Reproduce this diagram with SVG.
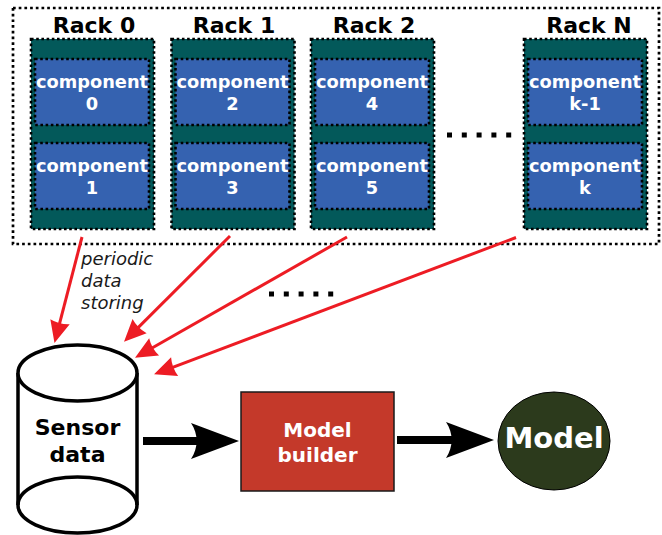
<svg xmlns="http://www.w3.org/2000/svg" width="662" height="535" viewBox="0 0 662 535">
  <style>
    .rack { fill: #03595a; stroke: #000; stroke-width: 2.6; stroke-dasharray: 2.6 2.6; }
    .comp { fill: #3562b0; stroke: #000; stroke-width: 2.6; stroke-dasharray: 2.6 2.6; }
    .rack-title { font-family: "DejaVu Sans", sans-serif; font-weight: bold; font-size: 22px; fill: #000; text-anchor: middle; }
    .comp-label { font-family: "DejaVu Sans", sans-serif; font-weight: bold; font-size: 17.8px; fill: #fff; text-anchor: middle; }
    .store { stroke: #ed1c24; stroke-width: 3; fill: none; marker-end: url(#redHead); }
    .flow { stroke: #000; stroke-width: 8; fill: none; }
    .head { fill: #000; }
    .ellipsis { stroke: #000; stroke-width: 5; stroke-dasharray: 5 9.8; fill: none; }
  </style>
  <defs>
    <marker id="redHead" markerUnits="userSpaceOnUse" viewBox="-14 -12 40 24" refX="0" refY="0" markerWidth="40" markerHeight="24" orient="auto" overflow="visible">
      <path d="M10,0 L-12,-10 Q-9,0 -12,10 Z" fill="#ed1c24"/>
    </marker>
  </defs>

  <!-- cluster of racks -->
  <rect id="cluster" x="13" y="8" width="646" height="236" fill="none" stroke="#000" stroke-width="2.7" stroke-dasharray="2.7 3"/>

  <g id="rack0">
    <text class="rack-title" x="94" y="33">Rack 0</text>
    <rect class="rack" x="31" y="39" width="123" height="190"/>
    <g id="comp0">
      <rect class="comp" x="35" y="59" width="114" height="66"/>
      <text class="comp-label" x="92" y="88">component</text>
      <text class="comp-label" x="92" y="110">0</text>
    </g>
    <g id="comp1">
      <rect class="comp" x="35" y="143" width="114" height="66"/>
      <text class="comp-label" x="92" y="172">component</text>
      <text class="comp-label" x="92" y="194">1</text>
    </g>
  </g>

  <g id="rack1">
    <text class="rack-title" x="234" y="33">Rack 1</text>
    <rect class="rack" x="171.5" y="39" width="123" height="190"/>
    <g id="comp2">
      <rect class="comp" x="175.5" y="59" width="114" height="66"/>
      <text class="comp-label" x="232.5" y="88">component</text>
      <text class="comp-label" x="232.5" y="110">2</text>
    </g>
    <g id="comp3">
      <rect class="comp" x="175.5" y="143" width="114" height="66"/>
      <text class="comp-label" x="232.5" y="172">component</text>
      <text class="comp-label" x="232.5" y="194">3</text>
    </g>
  </g>

  <g id="rack2">
    <text class="rack-title" x="374" y="33">Rack 2</text>
    <rect class="rack" x="311" y="39" width="123" height="190"/>
    <g id="comp4">
      <rect class="comp" x="315" y="59" width="114" height="66"/>
      <text class="comp-label" x="372" y="88">component</text>
      <text class="comp-label" x="372" y="110">4</text>
    </g>
    <g id="comp5">
      <rect class="comp" x="315" y="143" width="114" height="66"/>
      <text class="comp-label" x="372" y="172">component</text>
      <text class="comp-label" x="372" y="194">5</text>
    </g>
  </g>

  <!-- more racks in between -->
  <line class="ellipsis" x1="447" y1="135" x2="512" y2="135"/>

  <g id="rackN">
    <text class="rack-title" x="589" y="33">Rack N</text>
    <rect class="rack" x="524" y="39" width="123" height="190"/>
    <g id="compK1">
      <rect class="comp" x="528" y="59" width="114" height="66"/>
      <text class="comp-label" x="585" y="88">component</text>
      <text class="comp-label" x="585" y="110">k-1</text>
    </g>
    <g id="compK">
      <rect class="comp" x="528" y="143" width="114" height="66"/>
      <text class="comp-label" x="585" y="172">component</text>
      <text class="comp-label" x="585" y="194">k</text>
    </g>
  </g>

  <!-- sensor data store -->
  <g id="sensor-data">
    <path d="M18,373 L18,505 A59.5,28 0 0 0 137,505 L137,373" fill="#fff" stroke="#000" stroke-width="3.5"/>
    <ellipse cx="77.5" cy="373" rx="59.5" ry="28" fill="#fff" stroke="#000" stroke-width="3.5"/>
    <path d="M18,505 A59.5,28 0 0 1 137,505" fill="none" stroke="#000" stroke-width="3.5"/>
    <text x="77.5" y="435" font-family="DejaVu Sans, sans-serif" font-weight="bold" font-size="22" text-anchor="middle">Sensor</text>
    <text x="77.5" y="462" font-family="DejaVu Sans, sans-serif" font-weight="bold" font-size="22" text-anchor="middle">data</text>
  </g>

  <g id="model-builder">
    <rect x="241" y="392" width="153" height="99" fill="#c4392a" stroke="#1a1a1a" stroke-width="1.5"/>
    <text x="317.5" y="437" font-family="DejaVu Sans, sans-serif" font-weight="bold" font-size="20" fill="#fff" text-anchor="middle">Model</text>
    <text x="317.5" y="462" font-family="DejaVu Sans, sans-serif" font-weight="bold" font-size="20" fill="#fff" text-anchor="middle">builder</text>
  </g>

  <g id="model">
    <ellipse cx="554" cy="441" rx="56" ry="49" fill="#2c3a1c" stroke="#000" stroke-width="1"/>
    <text x="554" y="448" font-family="DejaVu Sans, sans-serif" font-weight="bold" font-size="29" fill="#fff" text-anchor="middle">Model</text>
  </g>

  <!-- connectors -->
  <g id="connectors">
    <line class="store" x1="82" y1="237" x2="57" y2="333.3"/>
    <line class="store" x1="230" y1="236" x2="131.1" y2="334.6"/>
    <line class="store" x1="347" y1="237" x2="143.7" y2="352.8"/>
    <line class="store" x1="516" y1="237.5" x2="163.4" y2="370.8"/>
    <line class="ellipsis" x1="269" y1="294" x2="334" y2="294"/>

    <line class="flow" x1="143" y1="441" x2="199" y2="441"/>
    <path class="head" d="M191,423 L239,441 L191,459 C198.5,448 198.5,434 191,423 Z"/>
    <line class="flow" x1="397" y1="440" x2="453" y2="440"/>
    <path class="head" d="M446,422 L494,440 L446,458 C453.5,447 453.5,433 446,422 Z"/>
  </g>

  <text x="81" y="265" font-family="DejaVu Sans, sans-serif" font-style="italic" font-size="18" fill="#1a1a1a">periodic</text>
  <text x="81" y="287" font-family="DejaVu Sans, sans-serif" font-style="italic" font-size="18" fill="#1a1a1a">data</text>
  <text x="81" y="309" font-family="DejaVu Sans, sans-serif" font-style="italic" font-size="18" fill="#1a1a1a">storing</text>
</svg>
